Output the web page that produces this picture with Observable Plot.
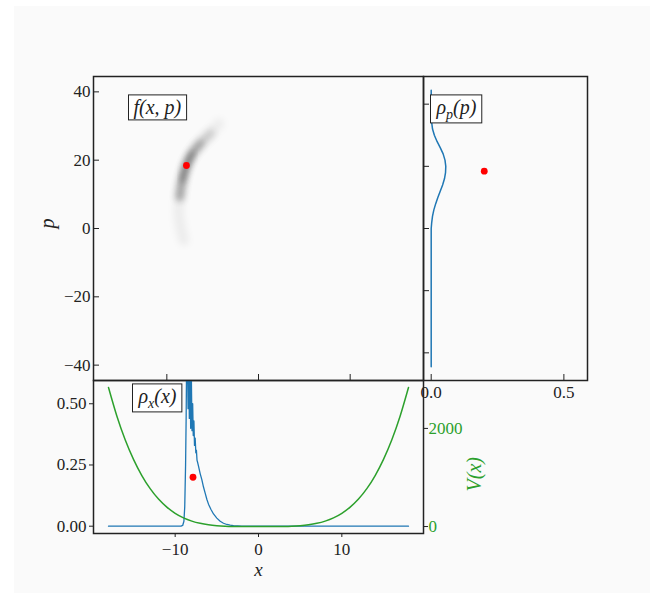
<!DOCTYPE html>
<html>
<head>
<meta charset="utf-8">
<script src="https://cdn.jsdelivr.net/npm/d3@7"></script>
<script src="https://cdn.jsdelivr.net/npm/@observablehq/plot@0.6"></script>
<style>
  html, body { margin: 0; padding: 0; background: #fff; }
  #fig { position: relative; width: 650px; height: 593px; overflow: hidden; }
  #bg { position: absolute; left: 14px; top: 6px; right: 0; bottom: 0; background: #fafafa; }
  #fig svg { position: absolute; }
</style>
</head>
<body>
<div id="fig"><div id="bg"></div></div>
<script>
// ---- phase-space grid extent ----
const phaseX = [-18, 18];
const phaseP = [-44.5, 44.5];

// ridge of the phase-space density f(x,p): centre line and relative weight
const ridgeX = [-8.15, -8.51, -8.69, -8.59, -8.32, -7.85, -7.23, -6.33, -5.24, -4.33];
const ridgeP = [-3.4, 0.5, 4.4, 9.2, 14.1, 18.5, 21.9, 24.9, 27.8, 30.7];
const ridgeW = [0.03, 0.06, 0.15, 0.5, 0.85, 1.0, 0.85, 0.55, 0.3, 0.12];

// classical state (red marker) and the level at which it is shown on the marginals
const stateX = -7.86;
const stateP = 18.45;
const markerLevel = 0.2;

// position marginal rho_x(x)
const rhoXx = [-18, -9.3, -9.1, -8.95, -8.85, -8.75, -8.68, -8.62,
  -8.52, -8.45, -8.38, -8.3, -8.22, -8.14, -8.06, -7.98, -7.9, -7.83, -7.75, -7.68, -7.6,
  -7.52, -7.45, -7.38, -7.3, -7.2, -7.0, -6.8, -6.6, -6.4, -6.2, -6.0, -5.7, -5.4, -5.0,
  -4.6, -4.2, -3.8, -3.4, -3.0, -2.5, -2.0, 18];
const rhoXv = [0, 0, 0.003, 0.02, 0.08, 0.25, 0.45, 0.7,
  0.66, 0.48, 0.72, 0.44, 0.68, 0.40, 0.62, 0.39, 0.50, 0.37, 0.43, 0.33, 0.36,
  0.30, 0.31, 0.27, 0.26, 0.245, 0.215, 0.19, 0.16, 0.135, 0.11, 0.09, 0.068, 0.05, 0.033,
  0.02, 0.012, 0.007, 0.004, 0.002, 0.001, 0, 0];

// momentum marginal rho_p(p)
const rhoPp = [-44.5, 0, 2, 4, 6, 8, 10, 12, 14, 16, 18, 20, 22, 24, 26, 28, 30, 32, 34, 36, 44.5];
const rhoPv = [0, 0, 0.002, 0.005, 0.01, 0.017, 0.025, 0.034, 0.043, 0.05, 0.054, 0.055,
  0.052, 0.045, 0.034, 0.022, 0.012, 0.005, 0.002, 0, 0];

// potential V(x)
const potX = [-18, -17, -16, -15, -14, -13, -12, -11, -10, -9, -8, -7, -6, -5, -4, -3, -2, -1,
  0, 1, 2, 3, 4, 5, 6, 7, 8, 9, 10, 11, 12, 13, 14, 15, 16, 17, 18];
const potV = [2835, 2255, 1770, 1370, 1040, 772, 560, 396, 270, 177, 111, 65, 35, 17, 7, 2.2, 0.4, 0.03,
  0, 0.03, 0.4, 2.2, 7, 17, 35, 65, 111, 177, 270, 396, 560, 772, 1040, 1370, 1770, 2255, 2835];

// ticks
const xTicks = [-10, 0, 10];
const pTicks = [-40, -20, 0, 20, 40];
const rhoXTicks = [0, 0.25, 0.5];
const rhoPTicks = [0, 0.5];
const vTicks = [0, 2000];

// panel titles ("_" marks a one-letter subscript)
const titleF = "f(x, p)";
const titleRhoP = "ρ_p(p)";
const titleRhoX = "ρ_x(x)";
const titleV = "V(x)";

// ---- helpers ----
const fig = document.getElementById("fig");
const serif = "'Liberation Serif', 'Times New Roman', serif";
const ink = "#222";
const blue = "#1f77b4";
const green = "#2ca02c";
const red = "#ff0000";
const style = {background: "transparent", fontFamily: serif, fontSize: "17px", color: ink, overflow: "visible"};
const minus = d => (d < 0 ? "\u2212" + Math.abs(d) : String(d));
const boxed = new Set([titleF, titleRhoP, titleRhoX]);

function place(svg, left, top) {
  svg.style.left = left + "px";
  svg.style.top = top + "px";
  fig.appendChild(svg);
  return svg;
}

function segments(s) {
  const out = [];
  let i = 0;
  while (i < s.length) {
    if (s[i] === "_") { out.push([s[i + 1], true]); i += 2; }
    else {
      let j = i;
      while (j < s.length && s[j] !== "_") j++;
      out.push([s.slice(i, j), false]);
      i = j;
    }
  }
  return out;
}

// typeset subscripts and draw the framed boxes behind panel titles
function typeset(svg) {
  d3.select(svg).selectAll('g[aria-label="text"] text').each(function () {
    const raw = this.textContent;
    if (!raw.includes("_") && !boxed.has(raw)) return;
    const t = d3.select(this).text(null);
    let prevSub = false;
    for (const [str, sub] of segments(raw)) {
      const ts = t.append("tspan").text(str);
      if (sub) ts.attr("font-size", "14px").attr("dy", 5);
      else if (prevSub) ts.attr("dy", -5);
      prevSub = sub;
    }
    if (boxed.has(raw)) {
      const b = this.getBBox();
      d3.select(this.parentNode).insert("rect", () => this)
        .attr("x", b.x - 5).attr("y", b.y - 1)
        .attr("width", b.width + 10).attr("height", b.height + 2)
        .attr("transform", this.getAttribute("transform"))
        .attr("fill", "#fff").attr("stroke", ink).attr("stroke-width", 1);
    }
  });
}

const labelFont = {fontFamily: serif, fontSize: 20, fontStyle: "italic", fill: ink};

// ---- main panel: f(x,p) ----
const M = {left: 93, top: 76, width: 330, height: 304};
const mp = {l: 60, t: 4, r: 4, b: 4};
const ridge = ridgeX.map((x, i) => ({x, p: ridgeP[i], w: ridgeW[i]}));
// nested strokes of increasing weight build up the grey density band
const bandLayers = [[0.02, 11, 0.05], [0.2, 9, 0.14], [0.5, 7, 0.22], [0.75, 5, 0.28]];

const mainSvg = Plot.plot({
  width: M.width + mp.l + mp.r, height: M.height + mp.t + mp.b,
  marginLeft: mp.l, marginTop: mp.t, marginRight: mp.r, marginBottom: mp.b,
  style,
  x: {domain: phaseX, axis: null},
  y: {domain: phaseP, axis: null},
  marks: [
    ...bandLayers.map(([t, sw, op]) => Plot.line(ridge.filter(d => d.w >= t), {
      x: "x", y: "p", stroke: "#000", strokeWidth: sw, strokeOpacity: op,
      strokeLinecap: "round", curve: "catmull-rom"
    })),
    Plot.dot([{x: stateX, p: stateP}], {x: "x", y: "p", r: 3.4, fill: red}),
    Plot.axisY(pTicks, {anchor: "left", tickSize: -6, tickPadding: 9, tickFormat: minus, label: null}),
    Plot.axisX(xTicks, {anchor: "bottom", tickSize: -6, tickFormat: () => "", label: null}),
    Plot.text([titleF], {text: d => d, frameAnchor: "top-left", dx: 40, dy: 31, textAnchor: "start", lineAnchor: "middle", ...labelFont}),
    Plot.text(["p"], {text: d => d, frameAnchor: "left", dx: -46, rotate: -90, lineAnchor: "middle", ...labelFont}),
    Plot.frame({stroke: ink, strokeWidth: 1.5})
  ]
});
place(mainSvg, M.left - mp.l, M.top - mp.t);

// soften the density band
{
  const svg = d3.select(mainSvg);
  const id = "band-blur";
  svg.insert("defs", ":first-child").append("filter").attr("id", id)
    .attr("x", "-50%").attr("y", "-50%").attr("width", "200%").attr("height", "200%")
    .append("feGaussianBlur").attr("stdDeviation", 3);
  svg.selectAll('g[aria-label="line"]').attr("filter", `url(#${id})`);
}

// ---- right panel: rho_p(p) ----
const S = {left: 423, top: 76, width: 164, height: 304};
const sp = {l: 4, t: 4, r: 8, b: 26};
const rhoP = rhoPp.map((p, i) => ({p, v: rhoPv[i]}));
const sideSvg = Plot.plot({
  width: S.width + sp.l + sp.r, height: S.height + sp.t + sp.b,
  marginLeft: sp.l, marginTop: sp.t, marginRight: sp.r, marginBottom: sp.b,
  style,
  x: {domain: [-0.029, 0.589], axis: null},
  y: {domain: [-48.9, 48.9], axis: null},
  marks: [
    Plot.line(rhoP, {x: "v", y: "p", stroke: blue, strokeWidth: 1.5}),
    Plot.dot([{v: markerLevel, p: stateP}], {x: "v", y: "p", r: 3.4, fill: red}),
    Plot.axisY(pTicks, {anchor: "left", tickSize: -6, tickFormat: () => "", label: null}),
    Plot.axisX(rhoPTicks, {anchor: "bottom", tickSize: -6, tickPadding: 11, tickFormat: d3.format(".1f"), label: null}),
    Plot.text([titleRhoP], {text: d => d, frameAnchor: "top-left", dx: 13, dy: 31, textAnchor: "start", lineAnchor: "middle", ...labelFont}),
    Plot.frame({stroke: ink, strokeWidth: 1.5})
  ]
});
place(sideSvg, S.left - sp.l, S.top - sp.t);

// ---- bottom panel: rho_x(x) ----
const B = {left: 93, top: 380, width: 330, height: 153};
const bp = {l: 60, t: 4, r: 4, b: 50};
const xDomainB = [-19.8, 19.8];
const rhoX = rhoXx.map((x, i) => ({x, v: rhoXv[i]}));
const bottomSvg = Plot.plot({
  width: B.width + bp.l + bp.r, height: B.height + bp.t + bp.b,
  marginLeft: bp.l, marginTop: bp.t, marginRight: bp.r, marginBottom: bp.b,
  style,
  x: {domain: xDomainB, axis: null},
  y: {domain: [-0.0298, 0.595], axis: null},
  marks: [
    Plot.line(rhoX, {x: "x", y: "v", stroke: blue, strokeWidth: 1.3, clip: true}),
    Plot.dot([{x: stateX, v: markerLevel}], {x: "x", y: "v", r: 3.4, fill: red}),
    Plot.axisY(rhoXTicks, {anchor: "left", tickSize: 4, tickPadding: 3, tickFormat: d3.format(".2f"), label: null}),
    Plot.axisX(xTicks, {anchor: "bottom", tickSize: 4, tickPadding: 5, tickFormat: minus, label: null}),
    Plot.text([titleRhoX], {text: d => d, frameAnchor: "top-left", dx: 45, dy: 16, textAnchor: "start", lineAnchor: "middle", ...labelFont}),
    Plot.text(["x"], {text: d => d, frameAnchor: "bottom", dy: 36, lineAnchor: "middle", ...labelFont, fontSize: 19}),
    Plot.frame({stroke: ink, strokeWidth: 1.5})
  ]
});
place(bottomSvg, B.left - bp.l, B.top - bp.t);

// ---- potential V(x) on a twin axis over the bottom panel ----
const vp = {l: 4, t: 4, r: 70, b: 4};
const pot = potX.map((x, i) => ({x, V: potV[i]}));
const potSvg = Plot.plot({
  width: B.width + vp.l + vp.r, height: B.height + vp.t + vp.b,
  marginLeft: vp.l, marginTop: vp.t, marginRight: vp.r, marginBottom: vp.b,
  style,
  x: {domain: xDomainB, axis: null},
  y: {domain: [-141.75, 2976.75], axis: null},
  marks: [
    Plot.line(pot, {x: "x", y: "V", stroke: green, strokeWidth: 1.5, curve: "monotone-x"}),
    Plot.axisY(vTicks, {anchor: "right", tickSize: 4, tickPadding: 1, stroke: ink, fill: green, tickFormat: d => String(d), label: null}),
    Plot.text([titleV], {text: d => d, frameAnchor: "right", dx: 51, rotate: -90, lineAnchor: "middle", ...labelFont, fill: green})
  ]
});
place(potSvg, B.left - vp.l, B.top - vp.t);

for (const svg of [mainSvg, sideSvg, bottomSvg, potSvg]) typeset(svg);
</script>
</body>
</html>
